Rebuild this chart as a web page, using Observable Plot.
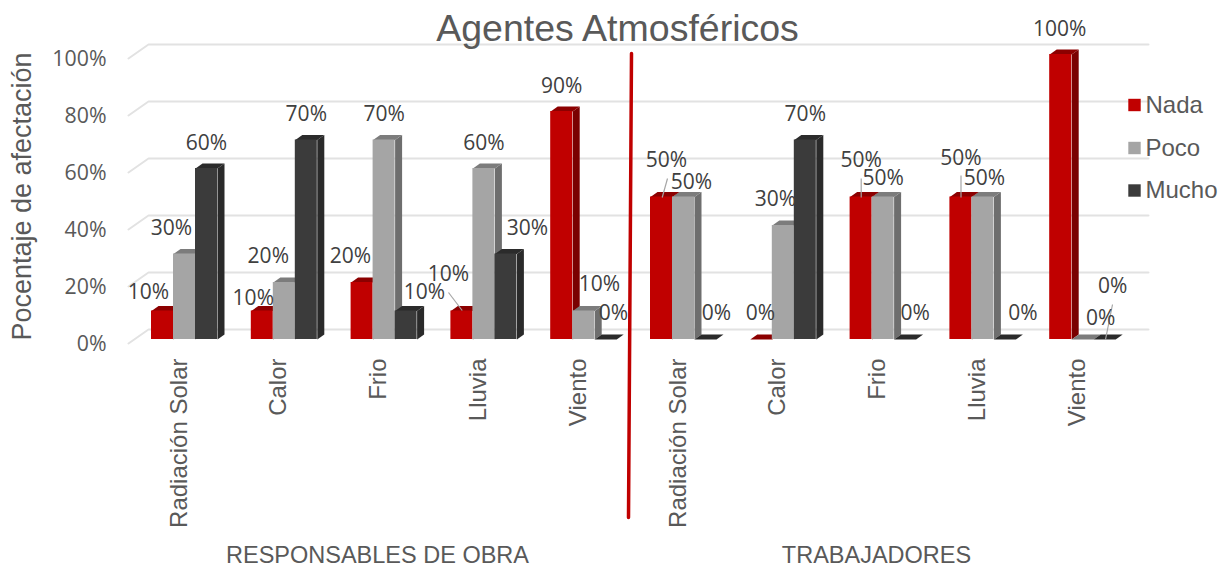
<!DOCTYPE html>
<html><head><meta charset="utf-8">
<script src="https://cdn.jsdelivr.net/npm/d3@7"></script>
<script src="https://cdn.jsdelivr.net/npm/@observablehq/plot@0.6"></script>
<style>html,body{margin:0;padding:0;background:#fff}svg{display:block}</style>
</head><body><div id="chart"></div>
<script>
const categories = ["Radiación Solar","Calor","Frio","Lluvia","Viento","Radiación Solar","Calor","Frio","Lluvia","Viento"];
const groups = ["RESPONSABLES DE OBRA","TRABAJADORES"];
const seriesNames = ["Nada","Poco","Mucho"];
// bar heights as drawn
const nada  = [10,10,20,10,80,50, 0,50,50,100];
const poco  = [30,20,70,60,10,50,40,50,50,  0];
const mucho = [60,70,10,30, 0, 0,70, 0, 0,  0];
// data labels as printed
const nadaLabels  = ["10%","10%","20%","10%","90%","50%","0%","50%","50%","100%"];
const pocoLabels  = ["30%","20%","70%","60%","10%","50%","30%","50%","50%","0%"];
const muchoLabels = ["60%","70%","10%","30%","0%","0%","70%","0%","0%","0%"];
// label nudges from bar top centre, px
const nudgeX = [[-14,-9,-11.6,-13.4,0,5,-0.8,0,0,-1],[-13,-16,0,0,15.8,8,-7.8,0,1.6,18],[0,0,18.4,21.6,7.8,11,0,10,18,8]];
const nudgeY = [[-18.5,-12.5,-26,-36.5,-25,-36.5,-26,-36.5,-38.5,-25],[-25.5,-26,-25.5,-25,-26.5,-14.5,-26,-18.5,-18.5,-21],[-25,-25.5,-18.5,-25.5,-26,-26,-25.5,-26,-26,-53]];

const fills = ["#C00000","#A5A5A5","#3B3B3B"];
const sides = ["#7A0000","#6E6E6E","#2A2A2A"];
const tops  = ["#8C0000","#7C7C7C","#2B2B2B"];
const yTicks = [0,20,40,60,80,100];

const W = 1227, H = 568, ML = 134, MR = 95, MT = 54, MB = 229;
const pxX = (W-ML-MR)/10, pxY = (H-MT-MB)/100;
const toX = p => (p-ML)/pxX, toY = p => (H-MB-p)/pxY;
const barStart = 17/pxX, barW = 22/pxX, depthX = 7/pxX, depthY = 5/pxY;

const values = [nada,poco,mucho], labels = [nadaLabels,pocoLabels,muchoLabels];
const rows = s => values[s].map((v,g)=>({g, s, v, name:seriesNames[s], x1:g+barStart+s*barW, x2:g+barStart+(s+1)*barW}));
const sidePts = s => rows(s).flatMap(r=>[[r.x2,0],[r.x2,r.v],[r.x2+depthX,r.v+depthY],[r.x2+depthX,depthY]].map(p=>({x:p[0],y:p[1],id:r.g})));
const topPts = s => rows(s).flatMap(r=>[[r.x1,r.v],[r.x1+depthX,r.v+depthY],[r.x2+depthX,r.v+depthY],[r.x2,r.v]].map(p=>({x:p[0],y:p[1],id:r.g})));

const gridPts = yTicks.flatMap(v=>[
  {x:toX(128),y:v-4/pxY,v},{x:toX(148),y:v+10/pxY,v},{x:toX(1148),y:v+10/pxY,v}]);

const labelRows = [0,1,2].flatMap(s=>rows(s).map(r=>({
  text:labels[s][r.g],
  x:(r.x1+r.x2)/2+nudgeX[s][r.g]/pxX,
  y:r.v+(-nudgeY[s][r.g])/pxY})));

const leaders = [[448,292,461.7,310],[667,178,661.7,197],[860.7,178,860.7,197],[960.5,175,960.5,197],[1112,304,1105,339]]
  .map(a=>({x1:toX(a[0]),y1:toY(a[1]),x2:toX(a[2]),y2:toY(a[3])}));
const divider = [{x:toX(631),y:toY(53)},{x:toX(628),y:toY(517)}];
const legendY = [104.5,147.5,190];
const font = "Liberation Sans", labelFont = "Open Sans";

const barMarks = [0,1,2].flatMap(s=>[
  Plot.line(sidePts(s),{x:"x",y:"y",z:"id",fill:sides[s],stroke:"none"}),
  Plot.line(topPts(s),{x:"x",y:"y",z:"id",fill:tops[s],stroke:"none"}),
  Plot.rect(rows(s).filter(r=>r.v>0),{x1:"x1",x2:"x2",y1:0,y2:"v",fill:"name"})
]);

const chart = Plot.plot({
  width:W,height:H,marginLeft:ML,marginRight:MR,marginTop:MT,marginBottom:MB,
  style:{fontFamily:font,background:"#fff",color:"#595959",overflow:"visible"},
  x:{domain:[0,10],axis:null},
  y:{domain:[0,100],axis:null},
  color:{domain:seriesNames,range:fills},
  marks:[
    Plot.line(gridPts,{x:"x",y:"y",z:"v",stroke:"#E2E2E2",strokeWidth:2}),
    ...barMarks,
    Plot.axisY({ticks:yTicks,tickSize:0,tickPadding:28,dy:5,tickFormat:d=>d+"%",fontSize:21.3,fontFamily:labelFont,fill:"#595959",label:null,anchor:"left"}),
    Plot.axisX({ticks:categories.map((c,i)=>i+.5),tickFormat:d=>categories[Math.floor(d)],tickSize:0,tickPadding:19,tickRotate:-90,dx:-5.5,fontSize:24,fill:"#595959",label:null,anchor:"bottom"}),
    Plot.text(["Pocentaje de afectación"],{x:toX(22),y:toY(196),rotate:-90,text:d=>d,fontSize:27,fill:"#595959"}),
    Plot.text(groups,{x:(d,i)=>toX(i?876:377),y:toY(554.5),text:d=>d,fontSize:23.5,fill:"#595959"}),
    Plot.text(["Agentes Atmosféricos"],{x:toX(617),y:toY(28),text:d=>d,fontSize:37.5,fill:"#595959"}),
    Plot.link(leaders,{x1:"x1",y1:"y1",x2:"x2",y2:"y2",stroke:"#A6A6A6",strokeWidth:1.2}),
    Plot.text(labelRows,{x:"x",y:"y",text:"text",fontSize:21,fontFamily:labelFont,fill:"#404040"}),
    Plot.line(divider,{x:"x",y:"y",stroke:"#C00000",strokeWidth:3.5}),
    Plot.dot(seriesNames,{x:toX(1134),y:(d,i)=>toY(legendY[i]),symbol:"square",r:7,fill:d=>d,stroke:"none"}),
    Plot.text(seriesNames,{x:toX(1145),y:(d,i)=>toY(legendY[i]),text:d=>d,textAnchor:"start",fontSize:24,fill:"#595959"})
  ]
});
document.getElementById("chart").appendChild(chart);
</script></body></html>
